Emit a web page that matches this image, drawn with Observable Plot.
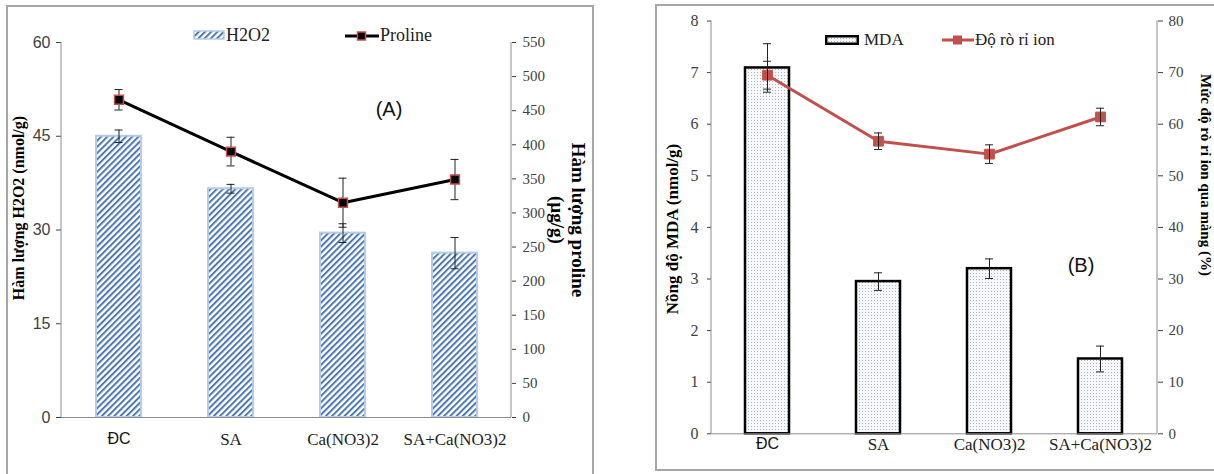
<!DOCTYPE html>
<html><head><meta charset="utf-8">
<script src="https://cdn.jsdelivr.net/npm/d3@7"></script>
<script src="https://cdn.jsdelivr.net/npm/@observablehq/plot@0.6"></script>
<style>
body{margin:0;background:#fff;}
#root{position:relative;width:1214px;height:474px;overflow:hidden;background:#fff;}
.frame{position:absolute;border:2px solid #a6a6a6;box-sizing:border-box;}
.layer{position:absolute;top:0;}
.title{position:absolute;font-family:"Liberation Serif","Times New Roman",serif;font-weight:bold;white-space:nowrap;color:#000;text-align:center;}
.leg{position:absolute;font-family:"Liberation Serif","Times New Roman",serif;font-size:18px;color:#222;white-space:nowrap;line-height:20px;}
.tag{position:absolute;font-family:"Liberation Sans",Arial,sans-serif;font-size:20px;color:#111;transform:translate(-50%,-50%);}
</style></head><body><div id="root"></div>
<script>
// ---------- data ----------
const categories = ["ĐC", "SA", "Ca(NO3)2", "SA+Ca(NO3)2"];
const h2o2 = [45.0, 36.6, 29.5, 26.3];
const h2o2Err = [1.0, 0.7, 1.5, 2.5];
const proline = [466, 390, 315, 349];
const prolineErr = [15, 21, 36, 29.5];
const mda = [7.09, 2.95, 3.2, 1.45];
const mdaErr = [0.47, 0.17, 0.19, 0.25];
const ionLeak = [69.5, 56.7, 54.2, 61.4];
const ionLeakErr = [2.7, 1.6, 1.8, 1.7];
const h2o2Ticks = [0, 15, 30, 45, 60];
const prolineTicks = [0, 50, 100, 150, 200, 250, 300, 350, 400, 450, 500, 550];
const mdaTicks = [0, 1, 2, 3, 4, 5, 6, 7, 8];
const ionTicks = [0, 10, 20, 30, 40, 50, 60, 70, 80];

const tableA = categories.map((c, i) => ({cat: c, h2o2: h2o2[i], hLo: h2o2[i] - h2o2Err[i], hHi: h2o2[i] + h2o2Err[i],
  pro: proline[i], pLo: proline[i] - prolineErr[i], pHi: proline[i] + prolineErr[i]}));
const tableB = categories.map((c, i) => ({cat: c, mda: mda[i], mLo: mda[i] - mdaErr[i], mHi: mda[i] + mdaErr[i],
  ion: ionLeak[i], iLo: ionLeak[i] - ionLeakErr[i], iHi: ionLeak[i] + ionLeakErr[i]}));

const root = document.getElementById("root");
const SERIF = "'Liberation Serif', 'Times New Roman', serif";
const SANS = "'Liberation Sans', Arial, sans-serif";

function addDiv(cls, css, html) {
  const d = document.createElement("div");
  d.className = cls; d.style.cssText = css; if (html != null) d.innerHTML = html;
  root.appendChild(d); return d;
}
// frames
addDiv("frame", "left:6px;top:5px;width:588px;height:490px;");
addDiv("frame", "left:655px;top:4px;width:580px;height:467px;");

const defs = `<defs>
<pattern id="hatchA" patternUnits="userSpaceOnUse" width="4.4" height="4.4" patternTransform="rotate(45)">
<rect width="4.4" height="4.4" fill="#ffffff"/><rect x="0" y="0" width="2" height="4.4" fill="#4d78b0"/></pattern>
<pattern id="dotsB" patternUnits="userSpaceOnUse" width="3" height="3">
<rect width="3" height="3" fill="#f6f8fa"/><rect width="1" height="1" fill="#aab5c2"/></pattern>
</defs>`;

function axisLine(svg, x, y1, y2) {
  d3.select(svg).append("line").attr("x1", x).attr("x2", x).attr("y1", y1).attr("y2", y2)
    .attr("stroke", "#8c8c8c").attr("stroke-width", 1);
}
function place(svg, left, z) {
  svg.classList.add("layer");
  svg.style.left = left + "px";
  svg.style.zIndex = z;
  root.appendChild(svg);
}
// enforce fonts on axis tick labels
function fontX(svg, size) {
  d3.select(svg).selectAll('g[aria-label="x-axis tick label"] text').each(function() {
    const t = this.textContent;
    const s = d3.select(this);
    if (t === "ĐC") s.attr("font-family", SANS).style("font-family", SANS).attr("font-size", size - 1).style("font-size", (size - 1) + "px").attr("fill", "#111");
    else s.attr("font-family", SERIF).style("font-family", SERIF).attr("font-size", size).style("font-size", size + "px").attr("fill", "#222");
  });
}
function fontY(svg, fam, size) {
  d3.select(svg).selectAll('g[aria-label="y-axis tick label"] text').style("font-family", fam).style("font-size", size + "px");
}

// ---------- Panel A ----------
const dimA = {width: 600, height: 474, marginLeft: 61, marginRight: 89, marginTop: 42, marginBottom: 57};
const xA = {domain: categories, type: "band", paddingInner: 0.6, paddingOuter: 0.3, axis: null};
const baseStyle = {background: "transparent", color: "#404040", overflow: "visible"};

const a1 = Plot.plot({
  ...dimA, style: baseStyle, x: xA,
  y: {domain: [0, 60], axis: null},
  marks: [
    Plot.barY(tableA, {x: "cat", y: "h2o2", fill: "url(#hatchA)", stroke: "#b4cbe9", strokeWidth: 2}),
    Plot.ruleY([0], {stroke: "#8c8c8c"}),
    Plot.ruleX(tableA, {x: "cat", y1: "hLo", y2: "hHi", stroke: "#222", strokeWidth: 1}),
    Plot.tickY(tableA, {x: "cat", y: "hLo", stroke: "#222", insetLeft: 18.5, insetRight: 18.5}),
    Plot.tickY(tableA, {x: "cat", y: "hHi", stroke: "#222", insetLeft: 18.5, insetRight: 18.5}),
    Plot.axisY({anchor: "left", ticks: h2o2Ticks, tickSize: 5, tickPadding: 6, fontSize: 16, label: null}),
    Plot.axisX({ticks: categories, tickSize: 0, tickPadding: 15, fontSize: 17, label: null})
  ]
});
d3.select(a1).insert("g", ":first-child").html(defs);
axisLine(a1, dimA.marginLeft, dimA.marginTop, dimA.height - dimA.marginBottom);
fontX(a1, 17);
fontY(a1, SANS, 16);
place(a1, 0, 1);

const a2 = Plot.plot({
  ...dimA, style: baseStyle, x: xA,
  y: {domain: [0, 550], axis: null},
  marks: [
    Plot.line(tableA, {x: "cat", y: "pro", stroke: "#000", strokeWidth: 3}),
    Plot.ruleX(tableA, {x: "cat", y1: "pLo", y2: "pHi", stroke: "#222", strokeWidth: 1}),
    Plot.tickY(tableA, {x: "cat", y: "pLo", stroke: "#222", insetLeft: 18.5, insetRight: 18.5}),
    Plot.tickY(tableA, {x: "cat", y: "pHi", stroke: "#222", insetLeft: 18.5, insetRight: 18.5}),
    Plot.dot(tableA, {x: "cat", y: "pro", symbol: "square", r: 5, fill: "#000", stroke: "#c0504d", strokeWidth: 1.5}),
    Plot.axisY({anchor: "right", ticks: prolineTicks, tickSize: 4, tickPadding: 7, fontSize: 15, label: null})
  ]
});
axisLine(a2, dimA.width - dimA.marginRight, dimA.marginTop, dimA.height - dimA.marginBottom);
fontY(a2, SERIF, 15);
place(a2, 0, 2);

// ---------- Panel B ----------
const dimB = {width: 574, height: 474, marginLeft: 71, marginRight: 57, marginTop: 20.5, marginBottom: 40.7};
const b1 = Plot.plot({
  ...dimB, style: baseStyle, x: xA,
  y: {domain: [0, 8], axis: null},
  marks: [
    Plot.barY(tableB, {x: "cat", y: "mda", fill: "url(#dotsB)", stroke: "#000", strokeWidth: 2.5}),
    Plot.ruleY([0], {stroke: "#8c8c8c"}),
    Plot.ruleX(tableB, {x: "cat", y1: "mLo", y2: "mHi", stroke: "#222", strokeWidth: 1}),
    Plot.tickY(tableB, {x: "cat", y: "mLo", stroke: "#222", insetLeft: 18, insetRight: 18}),
    Plot.tickY(tableB, {x: "cat", y: "mHi", stroke: "#222", insetLeft: 18, insetRight: 18}),
    Plot.axisY({anchor: "left", ticks: mdaTicks, tickSize: 4, tickPadding: 9, fontSize: 16, label: null}),
    Plot.axisX({ticks: categories, tickSize: 0, tickPadding: 4, fontSize: 17, label: null})
  ]
});
axisLine(b1, dimB.marginLeft, dimB.marginTop, dimB.height - dimB.marginBottom);
fontX(b1, 17);
fontY(b1, SERIF, 16);
place(b1, 640, 1);

const b2 = Plot.plot({
  ...dimB, style: baseStyle, x: xA,
  y: {domain: [0, 80], axis: null},
  marks: [
    Plot.line(tableB, {x: "cat", y: "ion", stroke: "#c0504d", strokeWidth: 3}),
    Plot.dot(tableB, {x: "cat", y: "ion", symbol: "square", r: 5.5, fill: "#c0504d", stroke: "#c0504d", strokeWidth: 1}),
    Plot.ruleX(tableB, {x: "cat", y1: "iLo", y2: "iHi", stroke: "#222", strokeWidth: 1}),
    Plot.tickY(tableB, {x: "cat", y: "iLo", stroke: "#222", insetLeft: 18, insetRight: 18}),
    Plot.tickY(tableB, {x: "cat", y: "iHi", stroke: "#222", insetLeft: 18, insetRight: 18}),
    Plot.axisY({anchor: "right", ticks: ionTicks, tickSize: 5, tickPadding: 6, fontSize: 15, label: null})
  ]
});
axisLine(b2, dimB.width - dimB.marginRight, dimB.marginTop, dimB.height - dimB.marginBottom);
fontY(b2, SERIF, 15);
place(b2, 640, 2);

// ---------- legends ----------
addDiv("leg", "left:193px;top:30px;line-height:0;",
  `<svg width="32" height="10"><rect x="1" y="1" width="30" height="8" fill="url(#hatchA)" stroke="#b4cbe9" stroke-width="1.5"/></svg>`);
addDiv("leg", "left:226px;top:25px;", "H2O2");
addDiv("leg", "left:345px;top:31px;line-height:0;",
  `<svg width="34" height="10"><line x1="0" y1="5" x2="34" y2="5" stroke="#000" stroke-width="3"/><rect x="12.5" y="1" width="8" height="8" fill="#000" stroke="#c0504d" stroke-width="1.5"/></svg>`);
addDiv("leg", "left:380px;top:25px;", "Proline");

addDiv("leg", "left:825px;top:35px;line-height:0;",
  `<svg width="34" height="10"><rect x="1.25" y="1.25" width="31.5" height="7.5" fill="url(#dotsB)" stroke="#000" stroke-width="2.5"/></svg>`);
addDiv("leg", "left:864px;top:30px;font-size:17px;", "MDA");
addDiv("leg", "left:942px;top:35px;line-height:0;",
  `<svg width="32" height="10"><line x1="0" y1="5" x2="32" y2="5" stroke="#c0504d" stroke-width="3"/><rect x="11" y="0.5" width="9" height="9" fill="#c0504d"/></svg>`);
addDiv("leg", "left:975px;top:30px;font-size:17px;", "Độ rò rỉ ion");

addDiv("tag", "left:389px;top:109px;", "(A)");
addDiv("tag", "left:1081px;top:265px;", "(B)");

// ---------- axis titles ----------
addDiv("title", "left:19px;top:208px;font-size:16px;transform:translate(-50%,-50%) rotate(-90deg);", "Hàm lượng H2O2 (nmol/g)");
addDiv("title", "left:568px;top:220px;font-size:19px;line-height:21px;transform:translate(-50%,-50%) rotate(90deg);", "Hàm lượng proline<br>(µg/g)");
addDiv("title", "left:673px;top:229px;font-size:17px;transform:translate(-50%,-50%) rotate(-90deg);", "Nồng độ MDA (nmol/g)");
addDiv("title", "left:1205px;top:175px;font-size:15px;transform:translate(-50%,-50%) rotate(90deg);", "Mức độ rò rỉ ion qua màng (%)");
</script>
</body></html>
